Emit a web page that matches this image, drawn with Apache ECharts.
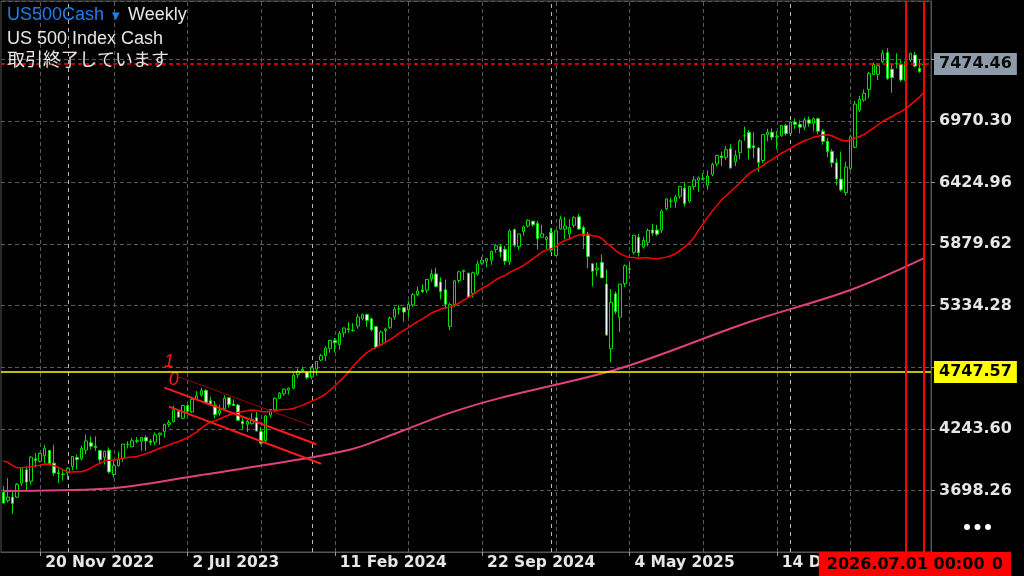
<!DOCTYPE html>
<html><head><meta charset="utf-8">
<script src="https://cdn.jsdelivr.net/npm/echarts@6/dist/echarts.min.js"></script>
<style>html,body{margin:0;padding:0;background:#000;}#c{width:1024px;height:576px;}</style>
</head><body><div id="c"></div>
<script>
// ---------- data ----------
const startDate = '2022-09-25';      // first weekly bar (Sunday label)
const nSlots = 202;                   // bar slots on the x axis (last one empty)
const open = [3682,3610,3640,3638,3762,3881,3780,3978,3956,4006,4052,3940,3854,3843,3853,3910,3990,3979,4055,4120,4090,4052,3992,4055,3839,3917,3982,4102,4085,4138,4134,4166,4136,4126,4190,4220,4283,4308,4396,4337,4450,4394,4505,4543,4584,4492,4453,4381,4420,4519,4463,4454,4311,4284,4289,4343,4220,4140,4365,4412,4515,4555,4586,4604,4725,4758,4745,4703,4772,4853,4892,4957,5027,4989,5093,5131,5112,5154,5219,5257,5218,5149,4988,5114,5142,5233,5305,5316,5297,5341,5431,5473,5471,5572,5615,5545,5476,5151,5345,5557,5637,5623,5442,5615,5711,5727,5737,5832,5858,5833,5723,6008,5857,5992,6040,6083,6063,5940,5920,5982,5779,6014,6012,5970,6046,6121,6026,5969,5705,5653,5718,5527,4953,5441,5233,5529,5655,5807,5941,5854,5897,6005,6004,6004,6193,6260,6255,6304,6375,6260,6389,6445,6457,6401,6494,6590,6661,6648,6725,6610,6690,6840,6870,6750,6730,6620,6849,6870,6830,6840,6930,6860,6960,6940,6915,6980,6950,6990,6880,6790,6700,6600,6456,6335,6551,6737,7067,7156,7250,7383,7383,7495,7575,7428,7479,7472,7327,7510,7554,7436,7468];
const high = [3736,3807,3685,3762,3905,3911,4000,4028,4035,4100,4052,4101,3894,3878,3906,4003,4015,4095,4195,4176,4176,4052,4049,4079,3962,4039,4110,4133,4164,4170,4170,4186,4154,4212,4210,4291,4322,4448,4408,4458,4456,4527,4578,4607,4594,4527,4490,4458,4541,4520,4505,4465,4338,4324,4385,4394,4259,4366,4415,4521,4569,4599,4609,4738,4778,4793,4755,4802,4842,4907,4975,5031,5048,5111,5140,5190,5180,5262,5265,5264,5228,5149,5114,5139,5239,5325,5342,5316,5375,5447,5505,5524,5570,5655,5670,5585,5566,5360,5564,5643,5651,5623,5636,5733,5767,5757,5822,5878,5878,5862,6012,6018,5972,6044,6099,6085,6085,6049,5949,6021,5998,6128,6120,6101,6127,6147,6044,5987,5705,5715,5787,5655,5481,5460,5528,5700,5720,5958,5969,5943,6017,6059,6050,6187,6284,6290,6315,6395,6427,6395,6481,6478,6508,6532,6600,6671,6699,6750,6765,6710,6807,6920,6890,6870,6740,6850,6900,6905,6880,6935,6945,6970,6990,6975,7000,7010,7000,7000,6900,6820,6720,6640,6698,6609,6846,7147,7191,7250,7406,7486,7480,7598,7614,7481,7569,7510,7501,7575,7583,7516,7480];
const low = [3584,3590,3491,3630,3737,3699,3750,3906,3946,3939,3919,3827,3764,3784,3794,3877,3885,3965,4017,4061,4048,3943,3928,3848,3809,3908,3951,4069,4084,4114,4049,4048,4098,4099,4103,4167,4260,4300,4341,4328,4385,4384,4500,4528,4474,4448,4335,4356,4414,4432,4448,4316,4238,4216,4283,4223,4104,4117,4342,4394,4511,4537,4547,4593,4695,4751,4682,4682,4715,4843,4845,4918,4920,4946,5057,5094,5104,5131,5203,5146,5107,4953,4987,5011,5128,5211,5256,5191,5234,5324,5420,5447,5447,5546,5497,5391,5306,5119,5322,5537,5561,5403,5406,5600,5697,5674,5696,5804,5762,5696,5696,5853,5830,5955,6027,6035,5832,5933,5829,5809,5773,6009,5923,5923,6026,6009,5837,5666,5505,5597,5581,5069,4835,5262,5101,5500,5616,5786,5768,5839,5862,5953,5952,5978,6178,6202,6201,6282,6212,6247,6360,6343,6444,6360,6480,6568,6569,6625,6550,6570,6630,6795,6631,6640,6520,6600,6790,6800,6720,6830,6840,6850,6900,6860,6890,6920,6880,6850,6760,6650,6560,6400,6344,6308,6536,6728,7052,7141,7171,7377,7333,7481,7333,7220,7436,7318,7318,7495,7445,7397,7465];
const close = [3586,3640,3583,3752,3901,3771,3993,3965,4026,4072,3934,3852,3845,3840,3895,3999,3973,4071,4136,4090,4079,3970,4045,3862,3917,3971,4109,4105,4138,4133,4169,4136,4124,4192,4205,4282,4299,4410,4348,4450,4399,4505,4536,4582,4478,4464,4369,4406,4515,4457,4450,4320,4288,4309,4327,4224,4117,4358,4415,4514,4559,4595,4604,4719,4754,4770,4697,4784,4840,4891,4959,5027,5006,5089,5137,5124,5117,5234,5254,5204,5123,4967,5100,5128,5223,5303,5305,5278,5347,5431,5465,5460,5567,5615,5505,5459,5347,5344,5554,5634,5648,5408,5626,5703,5738,5751,5815,5865,5808,5729,5996,5870,5969,6032,6090,6051,5930,5971,5942,5827,5997,6101,6041,6026,6114,6013,5955,5770,5639,5668,5581,5074,5363,5283,5525,5687,5660,5958,5803,5912,6000,5977,5968,6173,6279,6260,6297,6389,6238,6389,6449,6467,6460,6482,6584,6664,6644,6716,6553,6664,6792,6840,6729,6734,6603,6849,6870,6827,6834,6930,6858,6960,6940,6915,6980,6950,6990,6880,6790,6700,6600,6456,6359,6562,6831,7120,7162,7215,7392,7472,7460,7569,7348,7354,7474,7333,7495,7569,7456,7406,7474.46];
// 19 weekly closes before the first bar (for the 20-week moving average)
const priorCloses = [3901,4158,4108,3901,3675,3912,3825,3899,3863,3962,4130,4145,4280,4228,4058,3924,4067,3873,3693];
// slow moving average: [bar index, value]
const ma200Points = [[0,3693],[22,3712],[43,3835],[50,3879],[75,4056],[86,4216],[97,4385],[108,4518],[134,4780],[162,5190],[184,5473],[200,5755]];
const yMin = 3152.92, yStep = 545.34, yMax = 8032.6;
const yTickLabels = ['3698.26','4243.60','5334.28','5879.62','6424.96','6970.30'];
const xLabelIdx = [8,40,72,104,136,168];
const gridIdx = [8,24,40,56,72,88,104,120,136,152,168,184,200];
const yearSepIdx = [14,67,119,171];
const bidPrice = 7474.46;
const levelPrice = 4747.57;
const vLines = [{idx:200, text:'2026.07.26 00:00'}, {idx:196, text:'2026.07.01 00:00'}];
const channelLines = [
  {from:[38,4706], to:[67,4269], main:false},
  {from:[35,4609], to:[68,4107], main:true},
  {from:[36,4440], to:[69,3934], main:true}
];
const channelTexts = [{idx:36, price:4833, text:'1'}, {idx:37, price:4674, text:'0'}];

// ---------- build ----------
const MON = ['Jan','Feb','Mar','Apr','May','Jun','Jul','Aug','Sep','Oct','Nov','Dec'];
const t0 = Date.parse(startDate + 'T00:00:00Z');
const weeks = [];
for (let i = 0; i < nSlots; i++) weeks.push(new Date(t0 + i * 7 * 86400000).toISOString().slice(0, 10));
const fmtDay = s => { const p = s.split('-'); return (+p[2]) + ' ' + MON[+p[1] - 1] + ' ' + p[0]; };

const candles = open.map((o, i) => [o, close[i], low[i], high[i]]);
const allC = priorCloses.concat(close);
const ma20 = close.map((_, i) => { let s = 0; for (let j = i; j < i + 20; j++) s += allC[j]; return +(s / 20).toFixed(2); });
const ma200 = weeks.map(() => null);
ma200Points.forEach(([i, v]) => { ma200[i] = v; });

const AX = 'DejaVu Sans';
const chart = echarts.init(document.getElementById('c'), null, {renderer: 'canvas'});
chart.setOption({
  backgroundColor: '#000',
  animation: false,
  grid: {left: 1, right: 93, top: 1, bottom: 24, show: true, borderColor: '#555', borderWidth: 1, backgroundColor: 'transparent'},
  xAxis: {
    type: 'category', data: weeks, boundaryGap: true,
    axisLine: {show: true, lineStyle: {color: '#555'}},
    axisTick: {show: true, alignWithLabel: true, length: 4, lineStyle: {color: '#999'},
      interval: (idx) => xLabelIdx.indexOf(idx) >= 0},
    axisLabel: {show: true, interval: (idx) => xLabelIdx.indexOf(idx) >= 0, formatter: fmtDay,
      align: 'left', padding: [0, 0, 0, 5], margin: 3, color: '#e6e6e6',
      fontFamily: AX, fontWeight: 'bold', fontSize: 15.5},
    splitLine: {show: false}
  },
  yAxis: {
    type: 'value', position: 'right', min: yMin, max: yMax, interval: yStep, scale: true,
    axisLine: {show: true, lineStyle: {color: '#555'}},
    axisTick: {show: true, length: 4, lineStyle: {color: '#999'}},
    axisLabel: {show: true, margin: 8, color: '#e6e6e6', fontFamily: AX, fontWeight: 'bold', fontSize: 16,
      showMinLabel: false, showMaxLabel: false,
      formatter: v => { const s = v.toFixed(2); return yTickLabels.indexOf(s) >= 0 ? s : ''; }},
    splitLine: {show: true, lineStyle: {color: '#5a5a5a', type: [4, 3], width: 1}}
  },
  series: [
    {
      type: 'line', name: 'grid', data: [], z: 1, silent: true,
      markLine: {
        z: 1, silent: true, symbol: ['none', 'none'], label: {show: false},
        data: gridIdx.map(i => ({xAxis: i, lineStyle: {color: '#5a5a5a', type: [4, 3], width: 1}}))
          .concat(yearSepIdx.map(i => ({xAxis: i, lineStyle: {color: '#b8b8b8', type: [4, 4], width: 1}})))
      }
    },
    {
      type: 'candlestick', name: 'US500Cash', data: candles, z: 3, barWidth: 3,
      itemStyle: {color: '#000', color0: '#fff', borderColor: '#00dd00', borderColor0: '#00dd00', borderColorDoji: '#00dd00', borderWidth: 1},
      markLine: {
        silent: true, symbol: ['none', 'none'], z: 6,
        data: [
          {yAxis: levelPrice, lineStyle: {color: '#ffff00', width: 1.5, type: 'solid'},
            label: {show: true, position: 'end', formatter: levelPrice.toFixed(2), distance: 3,
              backgroundColor: '#ffff00', color: '#000', fontFamily: AX, fontWeight: 'bold', fontSize: 16,
              lineHeight: 19, padding: [2, 5, 1, 5]}},
          {yAxis: bidPrice, lineStyle: {color: '#ff0000', width: 1.5, type: [4, 3]},
            label: {show: true, position: 'end', formatter: bidPrice.toFixed(2), distance: 3,
              backgroundColor: '#8d9bab', color: '#0a0a0a', fontFamily: AX, fontWeight: 'bold', fontSize: 16,
              lineHeight: 19, padding: [2, 5, 1, 5]}}
        ].concat(vLines.map(v => ({xAxis: v.idx, lineStyle: {color: '#ff0000', width: 2, type: 'solid'},
            label: {show: true, position: 'start', formatter: v.text, distance: 0,
              backgroundColor: '#ff0000', color: '#000', fontFamily: AX, fontWeight: 'bold', fontSize: 16,
              lineHeight: 20, padding: [3, 8, 1, 8]}})))
          .concat(channelLines.map(c => [
            {coord: c.from, lineStyle: {color: c.main ? '#ff1a1a' : '#a00000', width: c.main ? 2 : 1, type: 'solid'}, label: {show: false}},
            {coord: c.to}
          ]))
      },
      markPoint: {
        silent: true, symbol: 'circle', symbolSize: 0,
        data: channelTexts.map(t => ({coord: [t.idx, t.price], label: {show: true, formatter: t.text, position: 'inside',
          color: '#ff1a1a', fontStyle: 'italic', fontFamily: 'Liberation Sans', fontSize: 18}}))
      }
    },
    {type: 'line', name: 'MA20', data: ma20, z: 4, symbol: 'none', silent: true,
      lineStyle: {color: '#ff0000', width: 1.5}},
    {type: 'line', name: 'MA200', data: ma200, z: 4, symbol: 'none', silent: true, connectNulls: true, smooth: 0.35,
      lineStyle: {color: '#e0407f', width: 2}}
  ],
  graphic: [
    {type: 'text', left: 7, top: 6, z: 10, style: {text: 'US500Cash', fill: '#1a80f0', font: '18px "Liberation Sans"'}},
    {type: 'text', left: 112, top: 11, z: 10, style: {text: '▼', fill: '#1a80f0', font: '10px "DejaVu Sans"'}},
    {type: 'text', left: 128, top: 6, z: 10, style: {text: 'Weekly', fill: '#e6e6e6', font: '18px "Liberation Sans"'}},
    {type: 'text', left: 7, top: 30, z: 10, style: {text: 'US 500 Index Cash', fill: '#e6e6e6', font: '18px "Liberation Sans"'}},
    {type: 'text', left: 7, top: 50, z: 10, style: {text: '取引終了しています', fill: '#e6e6e6', font: '18px "Noto Sans CJK JP"'}},
    {type: 'circle', z: 10, shape: {cx: 967, cy: 527, r: 3}, style: {fill: '#fff'}},
    {type: 'circle', z: 10, shape: {cx: 977.5, cy: 527, r: 3}, style: {fill: '#fff'}},
    {type: 'circle', z: 10, shape: {cx: 988, cy: 527, r: 3}, style: {fill: '#fff'}}
  ]
});
</script></body></html>
